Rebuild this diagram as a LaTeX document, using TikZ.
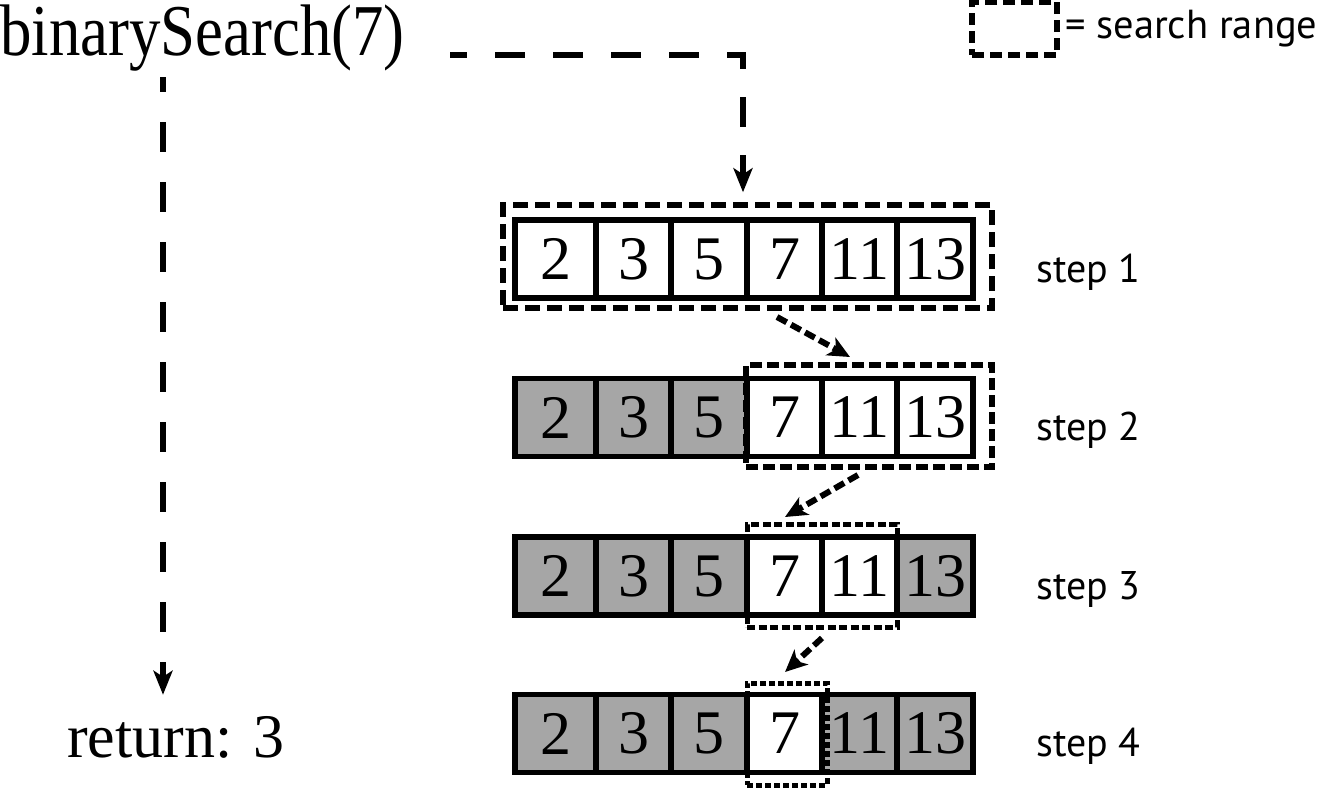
\documentclass[tikz,border=0pt]{standalone}
\usepackage{fontspec}
\setmainfont{Liberation Serif}
\newfontfamily\condserif[FakeStretch=0.86]{Liberation Serif}
\newfontfamily\labelsans{PT Sans}
\usetikzlibrary{arrows.meta}
\definecolor{cellgray}{RGB}{166,166,166}
\begin{document}
\begin{tikzpicture}[x=1pt,y=-1pt,
  cell/.style={draw=black,line width=5.5pt,minimum height=78pt,inner sep=0pt,
    font=\fontsize{62}{62}\selectfont},
  rangebox/.style={draw=black,line width=5.5pt,inner sep=0pt},
  steplabel/.style={anchor=base west,inner sep=0pt,font=\labelsans\fontsize{40}{40}\selectfont},
  bigdash/.style={line width=5.5pt,draw=black},
  smalldash/.style={line width=6pt,draw=black,dash pattern=on 11pt off 5pt,
    -{Stealth[length=22pt,width=20pt,inset=6pt]}},
  bigtip/.style={-{Stealth[length=24pt,width=19pt,inset=6pt]}}
]
\useasboundingbox (0,0) rectangle (1325,788);

% titles
\node[anchor=base west,inner sep=0pt,font=\condserif\fontsize{73}{73}\selectfont] (bs) at (0,55) {binarySearch(7)};
\node[anchor=base west,inner sep=0pt,font=\fontsize{62}{62}\selectfont] (ret) at (67,757) {return: 3};

% row 1
\foreach \l/\r/\v/\f [count=\i] in {515/596/2/white,596/671/3/white,671/747/5/white,747/822/7/white,822/897/11/white,897/973/13/white}
  \node[cell,fill=\f,minimum width={\r pt-\l pt}] (a\i) at ({(\l+\r)/2},259) {\v};
% row 2
\foreach \l/\r/\v/\f [count=\i] in {515/596/2/cellgray,596/671/3/cellgray,671/747/5/cellgray,747/822/7/white,822/897/11/white,897/973/13/white}
  \node[cell,fill=\f,minimum width={\r pt-\l pt}] (b\i) at ({(\l+\r)/2},417.5) {\v};
% row 3
\foreach \l/\r/\v/\f [count=\i] in {515/596/2/cellgray,596/671/3/cellgray,671/747/5/cellgray,747/822/7/white,822/897/11/white,897/973/13/cellgray}
  \node[cell,fill=\f,minimum width={\r pt-\l pt}] (c\i) at ({(\l+\r)/2},576) {\v};
% row 4
\foreach \l/\r/\v/\f [count=\i] in {515/596/2/cellgray,596/671/3/cellgray,671/747/5/cellgray,747/822/7/white,822/897/11/cellgray,897/973/13/cellgray}
  \node[cell,fill=\f,minimum width={\r pt-\l pt}] (d\i) at ({(\l+\r)/2},733.5) {\v};

% search ranges
\node[rangebox,dash pattern=on 15pt off 7pt,minimum width=489pt,minimum height=103pt] (r1) at (747.5,256.5) {};
\node[rangebox,dash pattern=on 12pt off 5pt,minimum width=246pt,minimum height=102pt] (r2) at (869,416) {};
\node[rangebox,line width=5pt,dash pattern=on 8pt off 3.5pt,minimum width=150pt,minimum height=103pt] (r3) at (822,575.5) {};
\node[rangebox,line width=5pt,dash pattern=on 6pt off 3pt,minimum width=80pt,minimum height=102pt] (r4) at (787,734) {};

% legend
\node[rangebox,dash pattern=on 12pt off 6pt,minimum width=85pt,minimum height=53pt] (leg) at (1014.5,28.5) {};
\node[anchor=base west,inner sep=0pt,font=\labelsans\fontsize{40.5}{40}\selectfont] (legtext) at (1065,38) {= search range};

% step labels
\node[steplabel] (s1) at (1036,282) {step 1};
\node[steplabel] (s2) at (1036,440.5) {step 2};
\node[steplabel] (s3) at (1036,599) {step 3};
\node[steplabel] (s4) at (1036,756.5) {step 4};

% big connectors
\coordinate (h0) at (450,55);
\draw[bigdash,bigtip,dash pattern=on 30pt off 28pt,dash phase=13pt,shorten >=10pt]
  (h0) -| ([xshift=-4.5pt]r1.north);
\coordinate (v0) at (163,77);
\draw[bigdash,bigtip,dash pattern=on 30pt off 30pt,dash phase=15pt,shorten >=21pt]
  (v0) -- (v0 |- ret.north);

% small connectors
\coordinate (p1) at (777,317);
\coordinate (q1) at (850,357);
\draw[smalldash] (p1) -- (q1);
\coordinate (p2) at (858,475);
\coordinate (q2) at (785,517);
\draw[smalldash] (p2) -- (q2);
\coordinate (p3) at (822,638);
\coordinate (q3) at (785,672);
\draw[smalldash] (p3) -- (q3);
\end{tikzpicture}
\end{document}
